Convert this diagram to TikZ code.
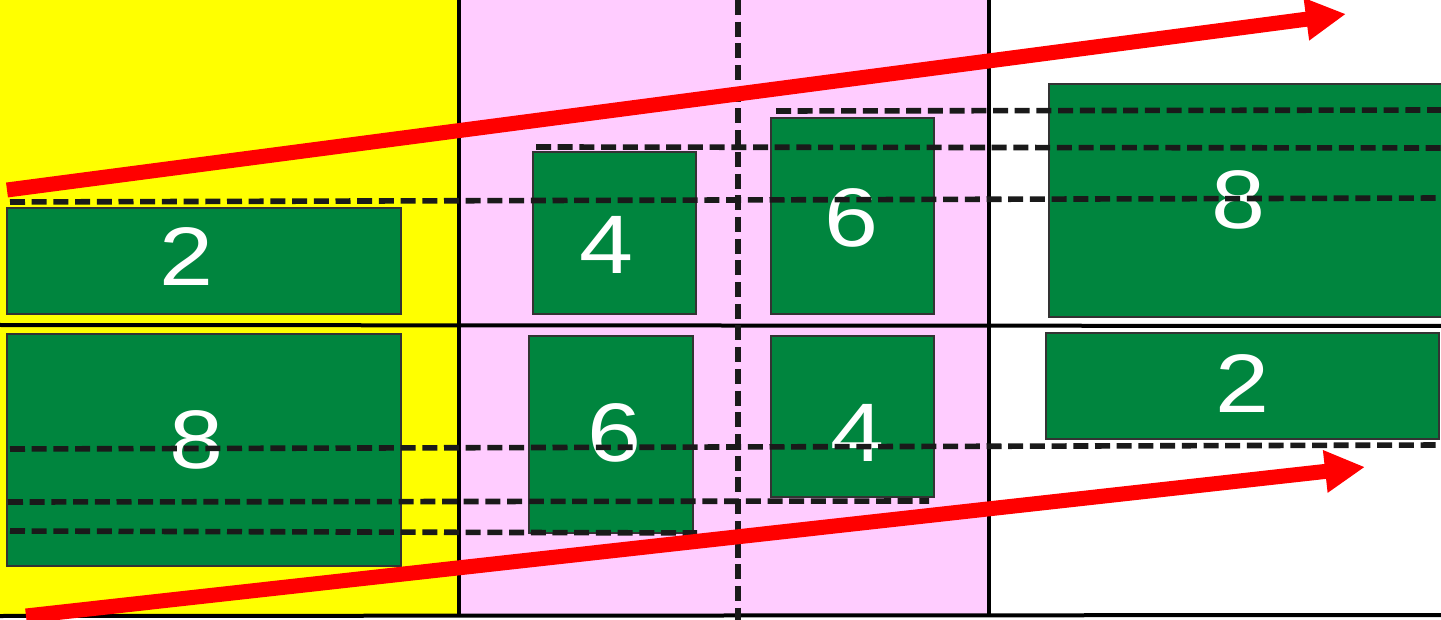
\documentclass[tikz,border=0pt]{standalone}
\usepackage{fontspec}
\usepackage{graphicx}
\setmainfont{Liberation Sans}
\usetikzlibrary{arrows.meta}
\definecolor{bgyellow}{RGB}{255,255,0}
\definecolor{bgpink}{RGB}{255,204,255}
\definecolor{boxgreen}{RGB}{0,133,62}
\definecolor{dashblack}{RGB}{26,26,26}
\definecolor{arrred}{RGB}{255,0,0}
\tikzset{
  greenbox/.style={draw=black!80, line width=1.8pt, fill=boxgreen},
  numtext/.style={text=white, inner sep=0pt, font=\fontsize{83}{83}\selectfont},
  guide/.style={draw=dashblack, line width=5.6pt, dash pattern=on 15pt off 6.7pt},
  divider/.style={draw=black, line width=4pt},
  bigarrow/.style={draw=arrred, line width=15pt, -{Triangle[length=40pt,width=40pt]}}
}
\newcommand{\wnum}[1]{\scalebox{1.17}[1]{#1}}
\begin{document}
\begin{tikzpicture}[x=1pt,y=-1pt]
\useasboundingbox (0,0) rectangle (1441,620);
% backgrounds
\fill[white] (0,0) rectangle (1441,620);
\fill[bgyellow] (0,0) rectangle (459,616);
\fill[bgpink] (459,0) rectangle (989,616);
% green boxes
\draw[greenbox] (7,208) rectangle (401,314);
\draw[greenbox] (7,334) rectangle (401,566);
\draw[greenbox] (533,152) rectangle (696,314);
\draw[greenbox] (771,118) rectangle (934,314);
\draw[greenbox] (529,336) rectangle (693,533);
\draw[greenbox] (771,336) rectangle (934,497);
\draw[greenbox] (1049,84) rectangle (1446,317);
\draw[greenbox] (1046,333) rectangle (1439,439);
% numbers
\node[numtext] (nA2) at (187,257) {\wnum{2}};
\node[numtext] (nA8) at (197,440) {\wnum{8}};
\node[numtext] (nB4) at (606,245) {\wnum{4}};
\node[numtext] (nB6) at (851,218) {\wnum{6}};
\node[numtext] (nC6) at (614,433) {\wnum{6}};
\node[numtext] (nC4) at (857,433) {\wnum{4}};
\node[numtext] (nD8) at (1238,200) {\wnum{8}};
\node[numtext] (nD2) at (1242,384) {\wnum{2}};
% solid dividers
\draw[divider] (459,0) -- (459,617);
\draw[divider] (989,0) -- (989,617);
\draw[divider] (0,325) -- (1441,326);
\draw[divider] (0,616) -- (1441,615);
% dashed guides
\draw[guide] (776,111) -- (1441,110);
\draw[guide] (536,147) -- (1441,148);
\draw[guide] (10,202) -- (1441,198);
\draw[guide] (10,449) -- (1441,445);
\draw[guide] (8,502) -- (929,501);
\draw[guide] (10,531) -- (697,533);
\draw[guide] (738,0) -- (738,620);
% red arrows
\coordinate (t0) at (7,190);
\coordinate (t1) at (1346,14);
\coordinate (b0) at (26,616);
\coordinate (b1) at (1365,467);
\draw[bigarrow] (t0) -- (t1);
\draw[bigarrow] (b0) -- (b1);
\end{tikzpicture}
\end{document}
